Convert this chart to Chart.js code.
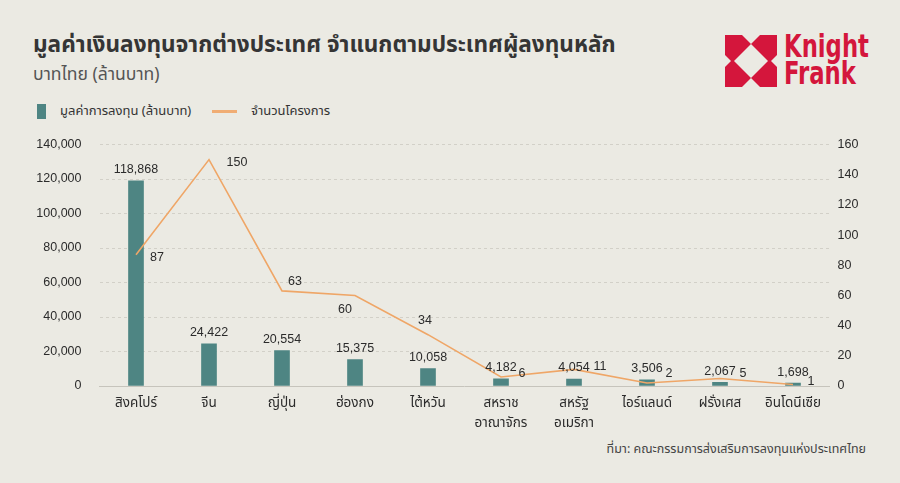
<!DOCTYPE html>
<html><head><meta charset="utf-8">
<script src="https://cdn.jsdelivr.net/npm/chart.js@4.4.1/dist/chart.umd.min.js"></script>
<style>
html,body{margin:0;padding:0;background:#ebeae3;}
#wrap{position:relative;width:900px;height:483px;overflow:hidden;background:#ebeae3;font-family:"Noto Sans Thai","Noto Sans Thai UI","Noto Sans",sans-serif;color:#333;}
#title{position:absolute;left:33px;top:32px;font-size:22.6px;font-weight:700;color:#353535;white-space:nowrap;line-height:1.2;}
#subtitle{position:absolute;left:33px;top:64px;font-size:17.6px;color:#555;white-space:nowrap;line-height:1.2;}
#legend{position:absolute;left:37px;top:101px;height:20px;font-size:13px;color:#333;white-space:nowrap;}
.lg{position:absolute;top:0;height:20px;line-height:20px;}
#source{position:absolute;right:34px;top:442px;font-size:12.5px;color:#444;white-space:nowrap;line-height:1.2;}
#logo{position:absolute;left:725px;top:35px;}
#kf{position:absolute;left:784px;top:33px;font-family:"Liberation Sans Narrow","DejaVu Sans Condensed",sans-serif;font-size:32px;line-height:27px;color:#d4163c;font-weight:700;transform:scaleX(0.79);transform-origin:0 0;}
#chartBox{position:absolute;left:0;top:119px;width:900px;height:321px;}
</style></head>
<body>
<div id="wrap">
  <div id="title">มูลค่าเงินลงทุนจากต่างประเทศ จำแนกตามประเทศผู้ลงทุนหลัก</div>
  <div id="subtitle">บาทไทย (ล้านบาท)</div>
  <div id="legend">
    <div class="lg" style="left:0;"><span style="position:absolute;left:0;top:3px;width:9px;height:15px;background:#4e8583;"></span></div>
    <div class="lg" style="left:23px;">มูลค่าการลงทุน (ล้านบาท)</div>
    <div class="lg" style="left:175px;"><span style="position:absolute;left:0;top:9px;width:25px;height:3px;background:#f0ad74;"></span></div>
    <div class="lg" style="left:214px;">จำนวนโครงการ</div>
  </div>
  <svg id="logo" width="52" height="52" viewBox="0 0 52 52">
    <rect x="0" y="0" width="52" height="52" fill="#d4163c"/>
    <polygon points="26,9 43,26 26,43 9,26" fill="#ebeae3"/>
    <polygon points="17,0 35,0 26,9" fill="#ebeae3"/>
    <polygon points="17,52 35,52 26,43" fill="#ebeae3"/>
    <polygon points="0,20 0,32 6,26" fill="#ebeae3"/>
    <polygon points="52,20 52,32 46,26" fill="#ebeae3"/>
  </svg>
  <div id="kf">Knight<br>Frank</div>
  <div id="chartBox"><canvas id="c" width="900" height="321"></canvas></div>
  <div id="source">ที่มา: คณะกรรมการส่งเสริมการลงทุนแห่งประเทศไทย</div>
</div>
<script>
const categories = [["สิงคโปร์"],["จีน"],["ญี่ปุ่น"],["ฮ่องกง"],["ไต้หวัน"],["สหราช","อาณาจักร"],["สหรัฐ","อเมริกา"],["ไอร์แลนด์"],["ฝรั่งเศส"],["อินโดนีเซีย"]];
const investmentValues = [118868,24422,20554,15375,10058,4182,4054,3506,2067,1698];
const projectCounts = [87,150,63,60,34,6,11,2,5,1];
const leftAxisMax = 140000, leftAxisStep = 20000;
const rightAxisMax = 160, rightAxisStep = 20;
const seriesNames = ["มูลค่าการลงทุน (ล้านบาท)","จำนวนโครงการ"];
// label nudges (px) for the project-count labels, relative to each point
const countLabelNudge = [[21,3],[28,3],[13,-9],[-10,14],[-3,-14],[21,-3],[26,-3],[22,-9],[23,-5],[18,-3]];

const numFont = '"Liberation Sans", Arial, sans-serif';
const thaiFont = '"Noto Sans Thai","Noto Sans Thai UI","Noto Sans",sans-serif';

const labelPlugin = {
  id: 'valueLabels',
  afterDatasetsDraw(chart) {
    const ctx = chart.ctx;
    ctx.save();
    ctx.font = '12.5px ' + numFont;
    ctx.fillStyle = '#2b2b2b';
    ctx.textAlign = 'center';
    ctx.textBaseline = 'middle';
    const barMeta = chart.getDatasetMeta(0);
    barMeta.data.forEach((el, i) => {
      ctx.fillText(investmentValues[i].toLocaleString('en-US'), el.x, el.y - 11);
    });
    const lineMeta = chart.getDatasetMeta(1);
    lineMeta.data.forEach((el, i) => {
      const n = countLabelNudge[i];
      ctx.fillText(String(projectCounts[i]), el.x + n[0], el.y + n[1]);
    });
    ctx.restore();
  }
};

new Chart(document.getElementById('c'), {
  data: {
    labels: categories,
    datasets: [
      { type: 'bar', label: seriesNames[0], data: investmentValues, yAxisID: 'y',
        backgroundColor: '#4e8583', barThickness: 15, order: 2 },
      { type: 'line', label: seriesNames[1], data: projectCounts, yAxisID: 'y1',
        borderColor: '#efa667', borderWidth: 1.6, pointRadius: 0, tension: 0, fill: false, order: 1 }
    ]
  },
  options: {
    responsive: false,
    animation: false,
    devicePixelRatio: 1,
    layout: { padding: { top: 3, bottom: 0, left: 0, right: 0 } },
    plugins: { legend: { display: false }, tooltip: { enabled: false } },
    scales: {
      x: {
        grid: { display: false },
        border: { display: true, color: '#c6c4bc', width: 1 },
        ticks: { color: '#2b2b2b', font: { family: thaiFont, size: 13.5, lineHeight: 1.5 }, padding: 0, maxRotation: 0, autoSkip: false },
        afterFit(s) { s.height = 54; }
      },
      y: {
        position: 'left', min: 0, max: leftAxisMax,
        ticks: { stepSize: leftAxisStep, color: '#2b2b2b', padding: 18, font: { family: numFont, size: 12.5 },
          callback: v => v.toLocaleString('en-US') },
        grid: { drawTicks: false, color: c => c.tick.value === 0 ? 'rgba(0,0,0,0)' : '#d2d0c8', lineWidth: 1 },
        border: { display: false, dash: [3, 3] },
        afterFit(s) { s.width = 99.5; }
      },
      y1: {
        position: 'right', min: 0, max: rightAxisMax,
        ticks: { stepSize: rightAxisStep, color: '#2b2b2b', padding: 8, font: { family: numFont, size: 12.5 } },
        grid: { display: false, drawTicks: false },
        border: { display: false },
        afterFit(s) { s.width = 70.5; }
      }
    }
  },
  plugins: [labelPlugin]
});
</script>
</body></html>
